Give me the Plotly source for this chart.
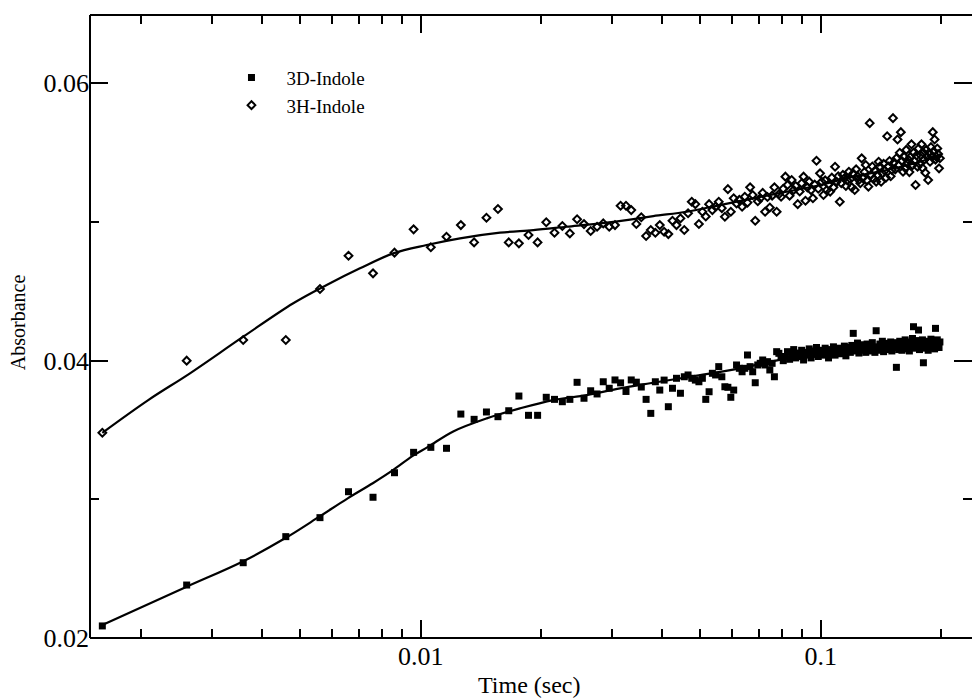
import plotly.graph_objects as go

# sampling grid of the stopped-flow trace: 1 ms steps starting at 1.6 ms
time_s = [round(0.0016 + 0.001 * k, 4) for k in range(198)]

# 3D-Indole absorbance (filled squares)
abs_3d = [
    0.02087, 0.02382, 0.02543, 0.02731, 0.02868, 0.03055, 0.03015, 0.03192, 0.03339, 0.03375,
    0.03368, 0.03615, 0.03577, 0.03630, 0.03596, 0.03639, 0.03745, 0.03606, 0.03606, 0.03736,
    0.03721, 0.03704, 0.03721, 0.03844, 0.03729, 0.03783, 0.03760, 0.03848, 0.03801, 0.03861,
    0.03840, 0.03778, 0.03861, 0.03845, 0.03810, 0.03721, 0.03620, 0.03848, 0.03788, 0.03860,
    0.03668, 0.03801, 0.03873, 0.03765, 0.03884, 0.03897, 0.03873, 0.03860, 0.03848, 0.03873,
    0.03721, 0.03776, 0.03909, 0.03897, 0.03957, 0.03884, 0.03812, 0.03808, 0.03736, 0.03788,
    0.03969, 0.03945, 0.03920, 0.03945, 0.04041, 0.03957, 0.03920, 0.03841, 0.03969, 0.03981,
    0.04005, 0.03969, 0.03993, 0.03933, 0.03981, 0.03884, 0.04065, 0.04053, 0.04029, 0.04000,
    0.04030, 0.04065, 0.04010, 0.04045, 0.04080, 0.04020, 0.04055, 0.04030, 0.04075, 0.04005,
    0.04060, 0.04040, 0.04085, 0.04020, 0.04070, 0.04045, 0.04095, 0.04030, 0.04060, 0.04075,
    0.04040, 0.04090, 0.04055, 0.04020, 0.04080, 0.04065, 0.04100, 0.04040, 0.04075, 0.04090,
    0.04050, 0.04085, 0.04060, 0.04105, 0.04035, 0.04080, 0.04095, 0.04060, 0.04110, 0.04197,
    0.04070, 0.04100, 0.04127, 0.04055, 0.04090, 0.04115, 0.04075, 0.04100, 0.04060, 0.04120,
    0.04085, 0.04105, 0.04070, 0.04130, 0.04090, 0.04060, 0.04216, 0.04100, 0.04075, 0.04120,
    0.04090, 0.04140, 0.04065, 0.04110, 0.04095, 0.04125, 0.04080, 0.04105, 0.04135, 0.04070,
    0.04115, 0.04095, 0.04130, 0.03952, 0.04100, 0.04080, 0.04140, 0.04110, 0.04075, 0.04125,
    0.04095, 0.04150, 0.04085, 0.04120, 0.04105, 0.04070, 0.04135, 0.04100, 0.04160, 0.04245,
    0.04090, 0.04125, 0.04110, 0.04145, 0.04221, 0.04080, 0.04130, 0.04100, 0.04150, 0.03985,
    0.04115, 0.04090, 0.04140, 0.04120, 0.04075, 0.04135, 0.04105, 0.04155, 0.04095, 0.04125,
    0.04140, 0.04085, 0.04233, 0.04110, 0.04150, 0.04120, 0.04095, 0.04135,
]

# 3H-Indole absorbance (open diamonds)
abs_3h = [
    0.03480, 0.04000, 0.04149, 0.04149, 0.04517, 0.04757, 0.04630, 0.04779, 0.04947, 0.04818,
    0.04894, 0.04978, 0.04853, 0.05031, 0.05094, 0.04853, 0.04846, 0.04906, 0.04853, 0.04998,
    0.04923, 0.04971, 0.04918, 0.05020, 0.04985, 0.04935, 0.04966, 0.04990, 0.04966, 0.04978,
    0.05117, 0.05117, 0.05086, 0.04986, 0.05034, 0.04899, 0.04942, 0.04923, 0.04978, 0.04930,
    0.04913, 0.05009, 0.04978, 0.05026, 0.04942, 0.05063, 0.05146, 0.05129, 0.04986, 0.05074,
    0.05040, 0.05129, 0.05086, 0.05110, 0.05146, 0.05100, 0.05038, 0.05237, 0.05074, 0.05171,
    0.05134, 0.05160, 0.05110, 0.05182, 0.05140, 0.05250, 0.05195, 0.05009, 0.05150, 0.05171,
    0.05210, 0.05074, 0.05180, 0.05105, 0.05190, 0.05250, 0.05074, 0.05200, 0.05182, 0.05240,
    0.05327, 0.05267, 0.05190, 0.05303, 0.05231, 0.05260, 0.05129, 0.05220, 0.05280, 0.05327,
    0.05153, 0.05250, 0.05291, 0.05230, 0.05171, 0.05270, 0.05442, 0.05240, 0.05351, 0.05290,
    0.05195, 0.05300, 0.05231, 0.05270, 0.05219, 0.05320, 0.05250, 0.05399, 0.05290, 0.05330,
    0.05146, 0.05280, 0.05340, 0.05315, 0.05260, 0.05300, 0.05363, 0.05310, 0.05250, 0.05350,
    0.05231, 0.05380, 0.05330, 0.05303, 0.05280, 0.05459, 0.05320, 0.05360, 0.05411, 0.05300,
    0.05255, 0.05713, 0.05340, 0.05400, 0.05310, 0.05370, 0.05291, 0.05340, 0.05435, 0.05400,
    0.05290, 0.05351, 0.05420, 0.05370, 0.05320, 0.05619, 0.05400, 0.05440, 0.05330, 0.05375,
    0.05749, 0.05430, 0.05380, 0.05460, 0.05595, 0.05410, 0.05500, 0.05648, 0.05440, 0.05363,
    0.05470, 0.05390, 0.05520, 0.05423, 0.05450, 0.05360, 0.05471, 0.05560, 0.05410, 0.05500,
    0.05440, 0.05267, 0.05480, 0.05399, 0.05530, 0.05420, 0.05483, 0.05560, 0.05390, 0.05500,
    0.05450, 0.05355, 0.05520, 0.05470, 0.05303, 0.05500, 0.05435, 0.05540, 0.05470, 0.05648,
    0.05510, 0.05595, 0.05450, 0.05470, 0.05530, 0.05490, 0.05387, 0.05460,
]

# fitted curves
fit_3d_t = [0.0016, 0.0026, 0.00358, 0.00458, 0.00558, 0.00657, 0.00759, 0.00854, 0.00953,
            0.01045, 0.01206, 0.01462, 0.0177, 0.02145, 0.026, 0.03149, 0.03744, 0.04713,
            0.06285, 0.0838, 0.1117, 0.149, 0.1986]
fit_3d = [0.02094, 0.02370, 0.02550, 0.02719, 0.02875, 0.03007, 0.03116, 0.03212, 0.03312,
          0.03380, 0.03490, 0.03584, 0.03656, 0.03716, 0.03752, 0.03800, 0.03837, 0.03884,
          0.03945, 0.04020, 0.04065, 0.04101, 0.04125]

fit_3h_t = [0.0016, 0.002084, 0.00265, 0.003601, 0.004803, 0.005821, 0.00705, 0.008541,
            0.01035, 0.01254, 0.01579, 0.01912, 0.02317, 0.02808, 0.03337, 0.03815, 0.04624,
            0.05601, 0.06785, 0.08222, 0.0996, 0.1206, 0.1462, 0.1771, 0.1986]
fit_3h = [0.03480, 0.03716, 0.03909, 0.04173, 0.04414, 0.04546, 0.04666, 0.04774,
          0.04834, 0.04882, 0.04923, 0.04942, 0.04966, 0.04990, 0.05017, 0.05043, 0.05074,
          0.05122, 0.05171, 0.05219, 0.05267, 0.05327, 0.05375, 0.05435, 0.05483]

x_major = [0.01, 0.1]
x_major_text = ["0.01", "0.1"]
x_minor = [0.002, 0.003, 0.004, 0.005, 0.006, 0.007, 0.008, 0.009,
           0.02, 0.03, 0.04, 0.05, 0.06, 0.07, 0.08, 0.09, 0.2]
y_major = [0.02, 0.04, 0.06]
y_major_text = ["0.02", "0.04", "0.06"]
y_minor = [0.03, 0.05]

SERIF = "Liberation Serif"

fig = go.Figure()

fig.add_trace(go.Scatter(x=time_s, y=abs_3d, mode="markers", name="3D-Indole",
                         marker=dict(symbol="square", size=7, color="black")))
fig.add_trace(go.Scatter(x=time_s, y=abs_3h, mode="markers", name="3H-Indole",
                         marker=dict(symbol="diamond-open", size=6, color="black",
                                     line=dict(width=2, color="black"))))
fig.add_trace(go.Scatter(x=fit_3d_t, y=fit_3d, mode="lines", showlegend=False,
                         line=dict(color="black", width=2.2, shape="spline")))
fig.add_trace(go.Scatter(x=fit_3h_t, y=fit_3h, mode="lines", showlegend=False,
                         line=dict(color="black", width=2.2, shape="spline")))

# frame is drawn as shapes (left, bottom, top) - the right edge is cut off in the original
axis_common = dict(showline=False, mirror="allticks",
                   ticks="inside", ticklen=18, tickwidth=2, tickcolor="black",
                   showgrid=False, zeroline=False,
                   tickfont=dict(family=SERIF, size=26, color="black"))

fig.update_xaxes(type="log", range=[-2.8267, -0.6218], tickmode="array",
                 tickvals=x_major, ticktext=x_major_text,
                 minor=dict(tickmode="array", tickvals=x_minor, ticks="inside",
                            ticklen=9, tickwidth=2, tickcolor="black", showgrid=False),
                 **axis_common)
fig.update_yaxes(range=[0.02, 0.06493], tickmode="array",
                 tickvals=y_major, ticktext=y_major_text,
                 minor=dict(tickmode="array", tickvals=y_minor, ticks="inside",
                            ticklen=9, tickwidth=2, tickcolor="black", showgrid=False),
                 **axis_common)

frame = dict(type="line", xref="paper", yref="paper", line=dict(color="black", width=2))
fig.add_shape(x0=0, x1=0, y0=0, y1=1, **frame)
fig.add_shape(x0=0, x1=1, y0=0, y1=0, **frame)
fig.add_shape(x0=0, x1=1, y0=1, y1=1, **frame)

fig.add_annotation(text="Time (sec)", xref="paper", yref="paper", x=0.4977, y=-0.0754,
                   xanchor="center", yanchor="middle", showarrow=False,
                   font=dict(family=SERIF, size=24, color="black"))
fig.add_annotation(text="Absorbance", xref="paper", yref="paper", x=-0.0816, y=0.507,
                   xanchor="center", yanchor="middle", textangle=-90, showarrow=False,
                   font=dict(family=SERIF, size=20, color="black"))

fig.update_layout(
    width=972, height=698,
    margin=dict(l=90, r=0, t=15, b=60),
    paper_bgcolor="white", plot_bgcolor="white",
    legend=dict(x=0.1434, y=0.930, xanchor="left", yanchor="top", itemwidth=60,
                bgcolor="rgba(0,0,0,0)", font=dict(family=SERIF, size=19, color="black"),
                tracegroupgap=0),
)

# drop the page's default body margin so the figure sits at the window origin
fig.write_html("out.html", config={"displayModeBar": False},
               post_script="document.body.style.margin='0px';")
